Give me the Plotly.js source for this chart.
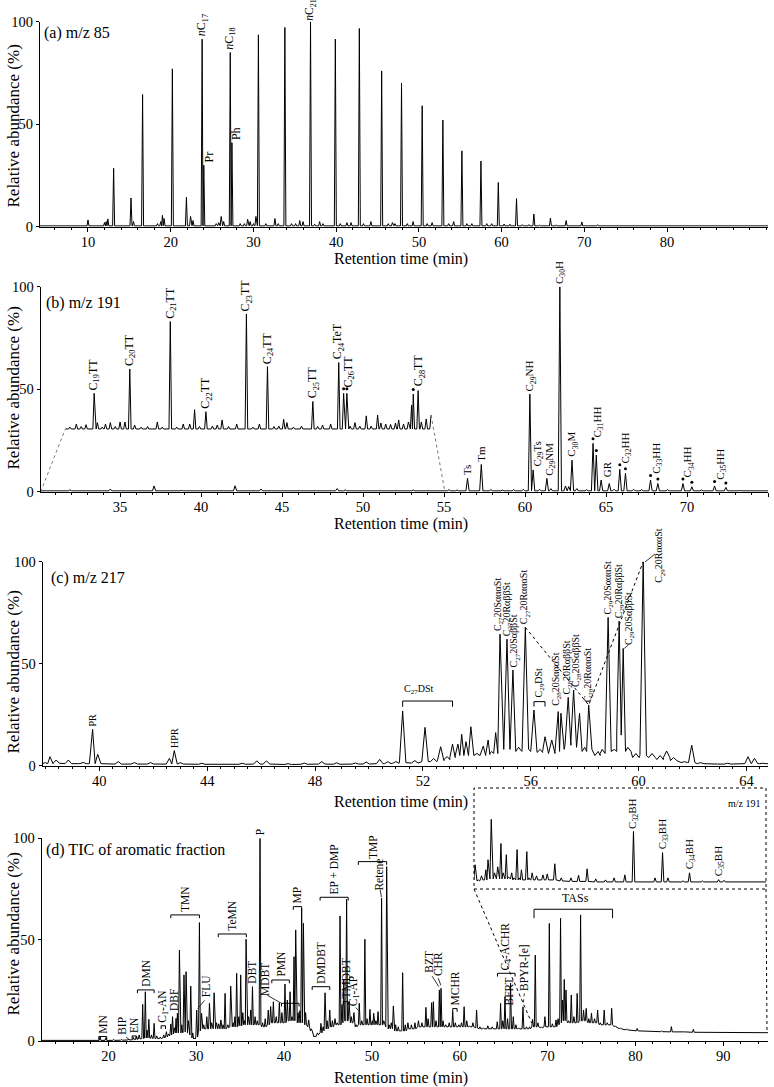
<!DOCTYPE html>
<html><head><meta charset="utf-8">
<script src="https://cdn.plot.ly/plotly-3.0.1.min.js"></script>
<style>html,body{margin:0;padding:0;background:#fff}#chart{width:774px;height:1087px}</style>
</head><body><div id="chart"></div>
<script>
// ---------------- DATA ----------------
// (a) m/z 85 : peak retention times (min) and relative abundance (%)
const aTime = [10.0,12.0,12.2,12.4,13.1,15.2,15.5,16.6,18.4,18.8,19.0,19.2,20.2,21.9,22.4,22.7,23.8,24.0,25.5,25.8,26.1,26.4,27.2,27.4,28.4,28.9,29.3,29.6,30.0,30.3,30.6,31.5,32.6,33.0,33.8,34.6,35.1,35.6,36.0,36.9,37.4,38.0,38.4,39.9,40.5,41.3,41.8,42.8,43.3,44.2,45.5,46.3,46.8,47.1,47.9,48.6,49.3,50.4,51.0,51.6,52.9,53.6,54.2,55.2,55.8,56.4,57.5,58.2,58.8,59.6,60.3,61.0,61.8,62.5,63.3,63.9,64.6,65.9,66.6,67.8,69.7,71.6];
const aAbund = [3.3,2.0,2.5,3.8,28.5,14.0,2.5,64.5,1.5,2.5,5.5,4.0,77,14.4,5.0,3.0,91.5,30,1.5,2.0,5.0,2.5,85,41,1.5,1.5,3.6,2.5,1.5,5.0,93.6,1.5,4.0,1.5,97.2,1.5,1.5,3.0,2.5,100,1.2,2.5,1.5,91.5,1.5,2.0,2.0,96.7,1.5,2.5,76,1.5,2.0,1.5,70,1.5,2.5,59,1.5,2.0,52,1.5,2.5,37,1.5,1.5,32,1.5,1.5,21.6,1.3,1.2,13.7,1.0,1.0,6.2,0.8,4.2,0.8,3.0,2.3,1.0];
const aBaseline = 0.4;

// (b) m/z 191 : full trace
const bTime = [31.9,34.4,37.1,38.8,42.1,43.7,47.0,48.4,48.9,50.6,53.1,55.3,55.8,56.45,57.3,57.9,58.6,59.3,59.9,60.3,60.5,60.9,61.35,61.6,62.15,62.5,62.7,62.9,63.2,63.8,64.2,64.4,64.7,65.2,65.5,65.85,66.2,66.7,67.2,67.75,68.2,68.8,69.75,70.3,70.9,71.7,72.4,73.3];
const bAbund = [0.9,1.3,2.8,0.6,2.9,1.3,0.7,1.5,0.9,0.6,0.8,1.0,0.8,6.5,13.3,1.0,0.8,1.0,1.2,47.6,10.6,1.2,6.5,1.5,100,2.8,2.5,15.4,1.5,1.0,23.6,17.9,5.7,4.0,1.2,10.9,9.0,1.2,1.0,5.7,4.0,1.0,4.0,2.4,0.8,2.8,2.1,0.6];
const bBaseline = 0.4;
// (b) offset / enlarged tricyclic terpane segment
const bUpTime = [31.7,31.9,32.3,32.6,32.9,33.4,33.6,33.9,34.1,34.4,34.7,35.0,35.3,35.6,35.9,36.3,36.7,37.3,37.6,38.1,38.5,38.9,39.3,39.6,39.9,40.3,40.7,41.0,41.3,41.7,42.2,42.8,43.2,43.6,44.1,44.5,44.8,45.1,45.3,45.7,46.2,46.9,47.2,47.5,48.0,48.5,48.8,49.0,49.2,49.5,49.8,50.2,50.5,50.9,51.1,51.4,51.7,52.0,52.2,52.5,52.8,53.0,53.1,53.4,53.6,53.9,54.2];
const bUpAbund = [30.6,31.5,33.0,31.8,32.7,48.0,33.7,31.5,33.0,33.7,31.8,34.0,34.0,59.8,32.5,31.5,31.8,34.0,31.5,83.0,31.5,33.0,33.0,40.0,31.8,39.0,32.0,32.5,35.0,31.8,33.0,86.7,31.5,33.0,61.0,31.8,32.0,35.3,33.7,31.5,32.0,44.0,31.8,32.5,33.0,63.0,48.0,48.0,32.0,33.7,32.0,37.0,32.0,37.4,33.5,33.0,32.8,33.5,35.0,33.0,34.0,42.3,47.6,49.3,34.0,35.5,37.4];
const bUpBaseline = 30.6;
const bLinkStart = [30.1, 0];
const bLinkEnd = [55.05, 0];
const bDotTimes = [48.8,49.0,53.1,64.2,64.4,65.85,66.2,67.75,68.2,69.75,70.3,71.7,72.4];

// (c) m/z 217
const cTime = [38.0,38.17,38.4,38.85,39.4,39.75,39.94,40.7,41.3,41.9,42.6,42.78,43.0,43.8,45.3,45.84,46.2,47.0,47.6,48.25,48.8,49.5,49.9,50.4,50.7,51.0,51.25,51.7,52.08,52.4,52.66,52.9,53.1,53.3,53.44,53.6,53.78,54.0,54.24,54.42,54.55,54.7,54.86,55.12,55.34,55.55,55.8,56.12,56.35,56.53,56.78,57.02,57.12,57.39,57.59,57.81,58.0,58.15,58.5,58.65,58.87,59.1,59.28,59.43,59.6,59.9,60.17,60.5,60.8,61.04,61.3,61.7,61.97,62.3,62.8,63.3,63.7,64.06,64.3,64.6];
const cAbund = [1.5,4.4,2.8,2.8,1.6,17.8,5.6,2.0,1.5,1.5,3.6,7.4,1.5,1.2,1.2,2.4,2.4,1.0,1.3,2.0,1.4,1.3,1.8,3.1,2.0,2.0,26.8,2.5,18.8,3.5,9.3,4.5,10.6,10.6,15.4,11.8,19.1,6.0,9.6,12.6,7.0,16.2,64.5,62.0,46.9,9.0,67.8,27.3,8.0,14.2,12.6,26.5,25.7,33.5,37.1,25.7,9.0,29.7,7.0,8.0,72.7,8.0,70.9,57.5,9.0,6.0,100,6.0,5.0,7.2,4.0,2.0,10.1,1.5,1.0,1.2,1.0,4.4,3.6,1.2];
const cBase = [1.0,1.0,1.2,1.0,1.0,1.0,1.0,0.8,0.8,0.8,0.8,1.0,0.8,0.7,0.7,0.8,0.8,0.6,0.7,0.8,0.7,0.8,0.8,1.0,1.0,1.2,1.5,1.3,2.0,2.0,2.5,3.0,4.0,5.0,5.0,5.0,5.0,5.0,5.0,5.5,6.0,6.0,8.0,8.0,8.0,7.0,8.0,7.0,6.5,7.0,6.0,7.0,8.0,10.0,12.0,9.0,7.0,8.0,5.0,6.0,8.0,7.0,16.0,15.0,7.0,4.0,5.0,4.0,3.0,4.0,2.5,1.5,1.5,1.0,0.8,0.8,0.8,1.0,1.0,1.0];
const cRegular20R = [55.8, 58.15, 60.17];

// (d) TIC of aromatic fraction
const dTime = [
 19.05,19.7,20.6,21.5,22.3,22.85,23.2,23.5,23.9,24.2,
 24.4,24.6,24.9,25.2,25.5,25.9,26.3,26.6,26.85,27.1,
 27.3,27.5,27.7,27.85,28.08,28.35,28.6,28.84,29.1,29.37,
 29.6,29.8,30.05,30.36,30.6,30.85,31.2,31.5,31.75,32.03,
 32.3,32.55,32.8,33.05,33.28,33.6,33.92,34.2,34.4,34.6,
 34.85,35.06,35.3,35.5,35.67,35.95,36.2,36.4,36.7,36.95,
 37.26,37.55,37.85,38.2,38.47,38.78,39.1,39.46,39.75,40.1,
 40.37,40.68,40.9,41.13,41.32,41.6,41.8,42.0,42.2,42.45,
 42.8,43.1,43.5,43.8,44.2,44.45,44.66,44.9,45.2,45.5,
 45.8,46.05,46.37,46.6,46.8,47.12,47.4,47.65,47.95,48.2,
 48.56,48.85,49.2,49.45,49.78,50.05,50.2,50.45,50.7,51.1,
 51.35,51.68,51.95,52.2,52.44,52.7,53.0,53.5,53.8,54.1,
 54.5,54.9,55.3,55.7,56.15,56.4,56.8,57.0,57.3,57.68,
 57.87,58.1,58.4,58.8,59.2,59.5,59.9,60.2,60.5,60.8,
 61.1,61.5,61.92,62.3,62.7,63.2,63.7,64.27,64.65,64.9,
 65.15,65.45,65.79,66.1,66.4,66.7,67.2,67.6,67.95,68.3,
 68.6,68.9,69.3,69.7,70.2,70.55,70.96,71.2,71.48,71.7,
 71.9,72.1,72.4,72.7,73.0,73.37,73.76,74.1,74.4,74.7,
 75.0,75.35,75.7,76.0,76.45,76.8,77.3,77.7,78.3,79.0,
 80.2,81.5,83.0,84.1,85.5,86.6,88.5,90.5,93.0];
const dAbund = [
 2.1,1.6,0.8,0.8,1.0,1.8,2.5,3.0,18.1,24.3,
 5.4,10.7,3.0,8.7,2.5,2.0,3.0,4.6,3.5,8.4,
 12.0,6.5,11.2,13.7,44.9,8.0,32.6,34.2,10.0,27.1,
 4.0,1.5,15.3,58.4,13.7,8.0,12.0,18.6,9.0,23.8,
 9.0,8.5,10.4,8.0,23.5,8.0,27.1,9.0,12.0,33.4,
 12.0,32.6,14.0,10.0,50.2,12.0,15.3,26.8,12.0,10.0,
 100,9.0,11.0,15.3,17.0,19.4,12.0,18.9,14.0,28.1,
 20.2,24.3,12.0,41.6,54.8,14.0,15.0,65.3,58.1,14.0,
 10.4,6.0,2.5,4.0,8.7,7.0,23.8,10.0,15.3,10.0,
 11.0,9.0,61.7,18.0,30.1,69.9,19.4,12.0,14.0,8.0,
 18.6,10.0,50.2,11.0,15.6,10.0,13.7,10.0,14.5,70.4,
 10.0,86.0,8.0,9.0,17.3,8.0,7.0,33.7,8.0,9.0,
 8.0,9.0,10.0,9.0,16.6,11.0,18.9,19.4,10.0,25.2,
 26.0,10.0,8.0,9.0,14.5,9.0,8.0,9.0,16.9,10.0,
 7.5,9.0,15.3,7.0,6.5,7.5,7.0,9.5,18.6,10.0,
 21.9,11.0,28.5,12.0,8.0,6.5,16.9,7.0,7.0,10.7,
 42.4,9.0,7.0,12.0,58.0,8.5,10.4,11.0,60.5,20.2,
 30.4,25.2,10.0,22.7,12.0,23.5,62.2,15.3,16.1,11.0,
 13.7,11.0,15.3,9.0,15.3,9.0,16.1,7.5,6.5,6.0,
 6.2,5.0,5.0,7.1,4.7,5.8,4.4,4.3,4.2];
const dBase = [
 0.3,0.3,0.3,0.4,0.5,0.6,0.8,1.0,1.2,1.5,
 1.5,1.5,1.3,1.3,1.2,1.2,1.5,2.0,2.5,3.0,
 3.5,4.0,4.0,4.0,4.0,4.0,4.5,4.5,4.0,3.0,
 1.5,1.0,2.0,5.0,6.0,6.0,6.0,6.0,6.0,6.0,
 6.0,6.0,6.0,6.0,6.0,6.5,7.0,7.0,7.0,7.0,
 7.5,7.5,8.0,8.0,8.0,8.0,8.0,8.0,8.0,8.0,
 8.0,7.0,7.0,8.0,9.0,9.0,9.0,9.0,9.0,9.0,
 10.0,10.0,10.0,10.0,10.0,9.0,9.0,9.0,9.0,8.0,
 7.0,5.0,2.0,3.0,4.0,5.0,6.0,6.0,7.0,7.0,
 8.0,8.0,8.0,9.0,10.0,10.0,10.0,9.0,9.0,7.0,
 8.0,8.0,8.0,8.0,8.0,8.0,8.0,8.0,8.0,8.0,
 8.0,7.0,6.0,6.0,6.0,5.0,5.0,5.0,5.0,6.0,
 6.0,6.0,7.0,7.0,7.0,7.0,7.0,7.0,7.0,7.0,
 7.0,7.0,7.0,7.0,7.0,7.0,7.0,7.0,7.0,7.0,
 7.0,7.0,6.5,6.0,6.0,6.0,6.0,6.0,6.0,6.0,
 6.0,6.0,6.0,6.0,6.0,6.0,6.0,6.0,6.0,7.0,
 7.0,7.0,6.5,7.0,7.0,7.0,7.0,8.0,9.0,10.0,
 10.0,10.0,9.0,9.0,9.0,9.0,10.0,10.0,10.0,9.0,
 9.0,9.0,9.0,8.0,8.0,8.0,8.0,7.0,6.0,5.5,
 5.0,4.8,4.6,4.5,4.5,4.3,4.2,4.2,4.1];

// inset: m/z 191 of the late TIC window
const iTime = [68.0,68.3,68.6,69.0,69.2,69.5,69.8,70.1,70.4,70.6,70.9,71.1,71.4,71.6,71.9,72.1,72.3,72.8,73.0,73.3,73.7,74.3,74.7,75.4,76.0,76.9,77.6,78.4,79.2,80.1,80.9,81.9,82.7,83.5,84.7,85.4,85.9,87.3,87.9,89.1,90.6,91.1];
const iAbund = [18,3,7,13,23,63,10,16,39,10,28,6,10,5,33,5,13,31,5,10,7,8,9,19,5,5,7.6,14,4,3,5,8,51,1.7,5,30,5,2,10,2,3.3,2.6];
const iBase = [3,2,3,3,4,4,4,4,4,4,4,4,4,3,3,3,3,3,3,3,3,3,3,3,2,1.5,1.5,1.5,1,1,1,1,1,1,1,1,1,1,1,1,1,1];

// tick labels
const aTicks = [10,20,30,40,50,60,70,80];
const bTicks = [35,40,45,50,55,60,65,70,75];
const bTickText = ['35','40','45','50','55','60','65','70','80'];
const cTicks = [40,44,48,52,56,60,64];
const dTicks = [20,30,40,50,60,70,80,90];
const yTicks = [0,50,100];

// ---------------- helpers ----------------
const FONT = '"Liberation Serif","Times New Roman",serif';
const W = 774, H = 1087;
const PX = v => v / W, PY = v => 1 - v / H;

function buildPeaks(times, heights, base, hw, xStart, xEnd) {
  const xs = [], ys = [];
  const b = i => Array.isArray(base) ? base[i] : base;
  const n = times.length;
  if (xStart !== undefined) { xs.push(xStart); ys.push(b(0)); }
  for (let i = 0; i < n; i++) {
    const t = times[i];
    const lo = i > 0 ? Math.max(t - hw, (times[i-1] + t) / 2) : t - hw;
    const hi = i < n - 1 ? Math.min(t + hw, (times[i+1] + t) / 2) : t + hw;
    xs.push(lo, t, hi); ys.push(b(i), heights[i], b(i));
  }
  if (xEnd !== undefined) { xs.push(xEnd); ys.push(b(n-1)); }
  return { xs, ys };
}
function heightAt(times, vals, t) {
  let bi = 0, bd = 1e9;
  for (let i = 0; i < times.length; i++) { const d = Math.abs(times[i] - t); if (d < bd) { bd = d; bi = i; } }
  return vals[bi];
}
const mean = a => a.reduce((s, v) => s + v, 0) / a.length;

const RANGE = { a:[4.2,92.2], b:[30.1,75.0], c:[37.9,64.8], d:[12.4,95.1], i:[67.9,95.0] };

const aT = buildPeaks(aTime, aAbund, aBaseline, 0.12, RANGE.a[0], RANGE.a[1]);
const bT = buildPeaks(bTime, bAbund, bBaseline, 0.1, RANGE.b[0], RANGE.b[1]);
const bU = buildPeaks(bUpTime, bUpAbund, bUpBaseline, 0.08);
bU.xs.pop(); bU.ys.pop();
const cT = buildPeaks(cTime, cAbund, cBase, 0.12, RANGE.c[0], RANGE.c[1]);
const dT = buildPeaks(dTime, dAbund, dBase, 0.1, RANGE.d[0], RANGE.d[1]);
const iT = buildPeaks(iTime, iAbund, iBase, 0.12, RANGE.i[0], RANGE.i[1]);

const LINE = { color: '#000', width: 1 };
const traces = [
  { x: aT.xs, y: aT.ys, xaxis: 'x', yaxis: 'y', mode: 'lines', line: LINE },
  { x: bT.xs, y: bT.ys, xaxis: 'x2', yaxis: 'y2', mode: 'lines', line: LINE },
  { x: bU.xs, y: bU.ys, xaxis: 'x2', yaxis: 'y2', mode: 'lines', line: LINE },
  { x: [bLinkStart[0], bU.xs[0], null, bU.xs[bU.xs.length-1], bLinkEnd[0]],
    y: [bLinkStart[1], bU.ys[0], null, bU.ys[bU.ys.length-1], bLinkEnd[1]],
    xaxis: 'x2', yaxis: 'y2', mode: 'lines', connectgaps: false, line: { color: '#777', width: 1, dash: 'dot' } },
  { x: bDotTimes,
    y: bDotTimes.map(t => (t < 54.5 ? heightAt(bUpTime, bUpAbund, t) : heightAt(bTime, bAbund, t)) + 2.2),
    xaxis: 'x2', yaxis: 'y2', mode: 'markers', marker: { size: 3, color: '#000' }, cliponaxis: false },
  { x: cT.xs, y: cT.ys, xaxis: 'x3', yaxis: 'y3', mode: 'lines', line: LINE },
  { x: cRegular20R, y: cRegular20R.map(t => heightAt(cTime, cAbund, t)),
    xaxis: 'x3', yaxis: 'y3', mode: 'lines', line: { color: '#000', width: 1, dash: 'dot' } },
  { x: dT.xs, y: dT.ys, xaxis: 'x4', yaxis: 'y4', mode: 'lines', line: LINE },
  { x: iT.xs, y: iT.ys, xaxis: 'x5', yaxis: 'y5', mode: 'lines', line: LINE }
];

// axes
function xAxis(range, dom, anchor, tickvals, minor, ticktext) {
  const ax = { range, domain: dom, anchor, showline: true, linecolor: '#000', linewidth: 1,
    ticks: 'outside', ticklen: 4, tickwidth: 1, tickcolor: '#000', tickmode: 'array', tickvals,
    ticklabelstandoff: -2,
    showgrid: false, zeroline: false, fixedrange: true,
    tickfont: { family: FONT, size: 14.5, color: '#000' },
    minor: { ticks: 'outside', ticklen: 2, tickwidth: 1, tickcolor: '#000', dtick: minor, tick0: 0, showgrid: false } };
  if (ticktext) ax.ticktext = ticktext;
  return ax;
}
function yAxis(dom, anchor) {
  return { range: [0, 100], domain: dom, anchor, showline: true, linecolor: '#000', linewidth: 1,
    ticks: 'outside', ticklen: 3, tickwidth: 1, tickcolor: '#000', tickmode: 'array', tickvals: yTicks,
    showgrid: false, zeroline: false, fixedrange: true,
    tickfont: { family: FONT, size: 14.5, color: '#000' } };
}
const hidden = (range, dom, anchor) => ({ range, domain: dom, anchor, visible: false, fixedrange: true });

// annotations
const ann = [];
function txt(xref, yref, x, y, text, size, o) {
  ann.push(Object.assign({ xref, yref, x, y, text, showarrow: false, borderpad: 0,
    font: { family: FONT, size, color: '#000' } }, o || {}));
}
function vtxt(ax, x, y, text, size, o) {
  txt('x' + ax, 'y' + ax, x, y, text, size,
    Object.assign({ textangle: -90, xanchor: 'center', yanchor: 'bottom', yshift: 2 }, o || {}));
}
function peakLabels(ax, times, vals, list, size) {
  list.forEach(L => {
    const y = Math.max(...L.p.map(t => heightAt(times, vals, t)));
    vtxt(ax, mean(L.p), y, L.t, L.size || size, { xshift: L.dx || 0, yshift: (L.ys !== undefined ? L.ys : 2) + (L.up || 0) });
  });
}

// panel titles & axis titles
const panelTitles = [['(a) m/z 85', 43, 33], ['(b) m/z 191', 45, 303], ['(c) m/z 217', 50, 578], ['(d) TIC of aromatic fraction', 45, 850]];
panelTitles.forEach(p => txt('paper', 'paper', PX(p[1]), PY(p[2]), p[0], 16, { xanchor: 'left', yanchor: 'middle' }));
[126, 388, 672, 934].forEach(c => txt('paper', 'paper', PX(12.5), PY(c), 'Relative abundance (%)', 17, { textangle: -90, xanchor: 'center', yanchor: 'middle' }));
[259, 524, 802, 1078].forEach(c => txt('paper', 'paper', PX(400.5), PY(c), 'Retention time (min)', 16, { xanchor: 'center', yanchor: 'middle' }));

// (a) labels
peakLabels('', aTime, aAbund, [
  { p: [23.8], t: '<i>n</i>C<sub>17</sub>' },
  { p: [27.2], t: '<i>n</i>C<sub>18</sub>' },
  { p: [36.9], t: '<i>n</i>C<sub>21</sub>', ys: 0, size: 11.5 },
  { p: [24.0], t: 'Pr', dx: 5 },
  { p: [27.4], t: 'Ph', dx: 4 }
], 12);

// (b) labels
peakLabels('2', bUpTime, bUpAbund, [
  { p: [33.4], t: 'C<sub>19</sub>TT' }, { p: [35.6], t: 'C<sub>20</sub>TT' },
  { p: [38.1], t: 'C<sub>21</sub>TT' }, { p: [40.3], t: 'C<sub>22</sub>TT' },
  { p: [42.8], t: 'C<sub>23</sub>TT' }, { p: [44.1], t: 'C<sub>24</sub>TT' },
  { p: [46.9], t: 'C<sub>25</sub>TT' }, { p: [48.5], t: 'C<sub>24</sub>TeT', dx: -1 },
  { p: [48.8, 49.0], t: 'C<sub>26</sub>TT', dx: 4, up: 3 },
  { p: [53.1, 53.4], t: 'C<sub>28</sub>TT', dx: 3, up: 1 }
], 12);
peakLabels('2', bTime, bAbund, [
  { p: [56.45], t: 'Ts' }, { p: [57.3], t: 'Tm' },
  { p: [60.3], t: 'C<sub>29</sub>NH' }, { p: [60.5], t: 'C<sub>29</sub>Ts', dx: 5 },
  { p: [61.35], t: 'C<sub>29</sub>NM', dx: 3 }, { p: [62.15], t: 'C<sub>30</sub>H' },
  { p: [62.9], t: 'C<sub>30</sub>M' },
  { p: [64.2, 64.4], t: 'C<sub>31</sub>HH', dx: 3, up: 3 },
  { p: [64.7], t: 'GR', dx: 6 },
  { p: [65.85, 66.2], t: 'C<sub>32</sub>HH', dx: 3, up: 3 },
  { p: [67.75, 68.2], t: 'C<sub>33</sub>HH', dx: 2, up: 3 },
  { p: [69.75, 70.3], t: 'C<sub>34</sub>HH', dx: 1, up: 3 },
  { p: [71.7, 72.4], t: 'C<sub>35</sub>HH', dx: 1, up: 3 }
], 11);

// (c) labels
peakLabels('3', cTime, cAbund, [
  { p: [39.75], t: 'PR' }, { p: [42.78], t: 'HPR' },
  { p: [54.86], t: 'C<sub>27</sub>20SαααSt', dx: -2 },
  { p: [55.12], t: 'C<sub>27</sub>20RαββSt' },
  { p: [55.34], t: 'C<sub>27</sub>20SαββSt', dx: 2 },
  { p: [55.8], t: 'C<sub>27</sub>20RαααSt' },
  { p: [57.02], t: 'C<sub>28</sub>20SαααSt', dx: -2, up: 3 },
  { p: [57.39], t: 'C<sub>28</sub>20RαββSt', dx: -1 },
  { p: [57.59], t: 'C<sub>28</sub>20SαββSt', dx: 3 },
  { p: [58.15], t: 'C<sub>28</sub>20RαααSt' },
  { p: [58.87], t: 'C<sub>29</sub>20SαααSt' },
  { p: [59.28], t: 'C<sub>29</sub>20RαββSt' },
  { p: [59.43], t: 'C<sub>29</sub>20SαββSt', dx: 7 }
], 10);
vtxt('3', 60.17, heightAt(cTime, cAbund, 60.17), 'C<sub>29</sub>20RαααSt', 10, { yanchor: 'middle', xshift: 17, yshift: 6 });
vtxt('3', 56.32, 31.4, 'C<sub>29</sub>DSt', 10, { yshift: 3 });
txt('x3', 'y3', 51.85, 31.7, 'C<sub>27</sub>DSt', 10, { xanchor: 'center', yanchor: 'bottom', yshift: 4 });

// (d) labels with brackets
const dBrackets = [
  [18.9, 19.8, 2.2, 'MN'], [22.7, 23.15, 2.5, 'EN'], [23.3, 25.2, 25.2, 'DMN'],
  [26.0, 26.5, 7.5, 'C<sub>1</sub>-AN'], [27.1, 30.36, 62.2, 'TMN'], [32.5, 35.7, 52.8, 'TeMN'],
  [38.6, 40.6, 30.1, 'PMN'], [41.05, 42.0, 66.3, 'MP'], [43.2, 45.2, 26.8, 'DMDBT'],
  [44.1, 47.3, 70.9, 'EP + DMP'], [46.75, 47.3, 19.4, 'TMDBT'], [48.45, 51.68, 88.5, 'TMP'],
  [59.2, 59.7, 16.0, 'MCHR'], [64.3, 66.3, 33.4, 'C<sub>4</sub>-ACHR']
];
const shapes = [];
function bracket(ax, x0, x1, y, tick) {
  shapes.push({ type: 'path', xref: 'x' + ax, yref: 'y' + ax,
    path: `M${x0},${y - tick} L${x0},${y} L${x1},${y} L${x1},${y - tick}`, line: { color: '#000', width: 1 } });
}
function leader(ax, x0, y0, x1, y1, dash) {
  shapes.push({ type: 'line', xref: 'x' + ax, yref: 'y' + ax, x0, y0, x1, y1, line: { color: '#000', width: 0.8, dash: dash || 'solid' } });
}
dBrackets.forEach(b => { bracket('4', b[0], b[1], b[2], 1.6); vtxt('4', (b[0] + b[1]) / 2, b[2], b[3], 11.5, { yshift: 2 }); });
const dFree = [
  [21.6, 2.3, 'BIP'], [27.4, 14.5, 'DBF'], [31.2, 21.0, 'FLU'], [37.8, 21.9, 'MDBT'],
  [47.9, 16.9, 'C<sub>1</sub>-AP'], [50.8, 73.7, 'Retene'], [56.55, 33.4, 'BZT'], [57.45, 31.7, 'CHR'],
  [65.6, 17.0, 'BFRT'], [67.4, 24.3, 'BPYR-[e]']
];
dFree.forEach(f => vtxt('4', f[0], f[1], f[2], 11.5, { yshift: 0 }));
peakLabels('4', dTime, dAbund, [{ p: [36.4], t: 'DBT' }, { p: [37.26], t: 'P' }], 11.5);
bracket('4', 39.7, 41.7, 18.6, 1.6);
bracket('4', 68.46, 77.4, 65, 4.4);
txt('x4', 'y4', 73.2, 65, 'TASs', 12, { xanchor: 'center', yanchor: 'bottom', yshift: 3 });
leader('4', 22.0, 2.0, 22.4, 0.6);
leader('4', 30.95, 20.0, 30.15, 16.0);
leader('4', 38.1, 22.5, 39.7, 18.6);
leader('4', 48.15, 16.5, 48.5, 15.0);
leader('4', 50.95, 74.5, 51.08, 71.0);
leader('4', 56.85, 32.0, 57.62, 26.8);
leader('4', 57.55, 31.0, 57.85, 27.5);
leader('4', 67.35, 23.5, 67.22, 17.5, 'dot');

// (c) brackets and leaders
bracket('3', 51.25, 53.1, 31.7, 2.8);
bracket('3', 56.12, 56.53, 31.4, 2.4);
leader('3', 59.47, 57.5, 59.62, 59.1);
shapes.push({ type: 'line', xref: 'paper', yref: 'paper', x0: PX(645), y0: PY(562), x1: PX(655), y1: PY(554), line: { color: '#000', width: 0.8 } });

// inset labels, box and connectors
peakLabels('5', iTime, iAbund, [
  { p: [82.7], t: 'C<sub>32</sub>BH' }, { p: [85.4], t: 'C<sub>33</sub>BH' },
  { p: [87.9], t: 'C<sub>34</sub>BH' }, { p: [90.6], t: 'C<sub>35</sub>BH' }
], 11);
txt('paper', 'paper', PX(744), PY(803), 'm/z 191', 10, { xanchor: 'center', yanchor: 'middle' });
const DOT = { color: '#000', width: 1, dash: 'dot' };
shapes.push({ type: 'rect', xref: 'paper', yref: 'paper', x0: PX(474), x1: PX(766), y0: PY(889), y1: PY(788), line: DOT });
shapes.push({ type: 'line', xref: 'paper', yref: 'paper', x0: PX(474), y0: PY(889), x1: PX(531.7), y1: PY(1023), line: DOT });
shapes.push({ type: 'line', xref: 'paper', yref: 'paper', x0: PX(766), y0: PY(889), x1: PX(767), y1: PY(1032), line: DOT });

const layout = {
  width: W, height: H, margin: { l: 0, r: 0, t: 0, b: 0 }, showlegend: false,
  paper_bgcolor: '#fff', plot_bgcolor: 'rgba(0,0,0,0)',
  font: { family: FONT, color: '#000' },
  xaxis: xAxis(RANGE.a, [PX(40), PX(768)], 'y', aTicks, 2),
  yaxis: yAxis([PY(226.7), PY(21.7)], 'x'),
  xaxis2: xAxis(RANGE.b, [PX(40.7), PX(768)], 'y2', bTicks, 1, bTickText),
  yaxis2: yAxis([PY(491.7), PY(286.7)], 'x2'),
  xaxis3: xAxis(RANGE.c, [PX(42.7), PX(768)], 'y3', cTicks, 0.5),
  yaxis3: yAxis([PY(765.7), PY(561.7)], 'x3'),
  xaxis4: xAxis(RANGE.d, [PX(41.7), PX(768)], 'y4', dTicks, 2),
  yaxis4: yAxis([PY(1041), PY(838.3)], 'x4'),
  xaxis5: hidden(RANGE.i, [PX(474), PX(766)], 'y5'),
  yaxis5: hidden([-6, 94], [PY(889), PY(788)], 'x5'),
  annotations: ann,
  shapes: shapes
};
Plotly.newPlot('chart', traces, layout, { displayModeBar: false, staticPlot: true });
</script></body></html>
